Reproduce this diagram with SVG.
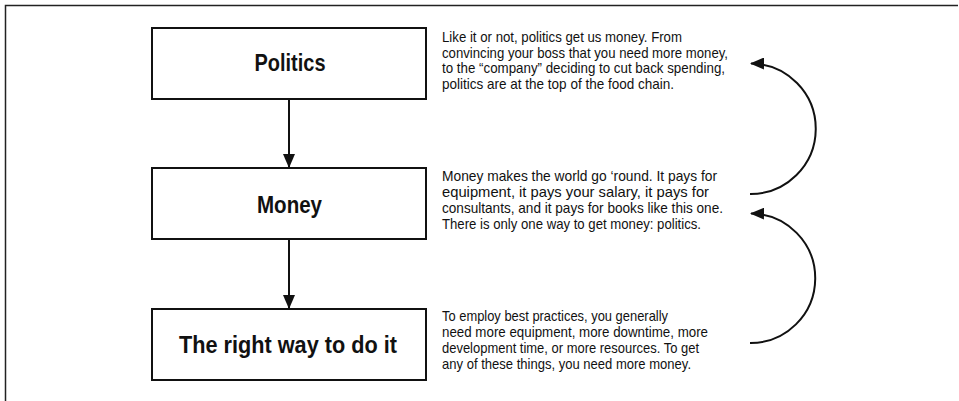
<svg xmlns="http://www.w3.org/2000/svg" width="959" height="401" viewBox="0 0 959 401">
<style>
.frame{fill:none;stroke:#222;stroke-width:1.5}
.box{fill:#fff;stroke:#111;stroke-width:2}
.lbl{font-family:"Liberation Sans",Arial,sans-serif;font-weight:bold;font-size:24px;fill:#111;text-anchor:middle}
.body{font-family:"Liberation Sans",Arial,sans-serif;font-size:15px;fill:#111}
.conn{fill:none;stroke:#111;stroke-width:2}
</style>
<defs>
<marker id="ah" viewBox="0 0 14 12" refX="13" refY="6" markerWidth="14" markerHeight="12" markerUnits="userSpaceOnUse" orient="auto">
<path d="M0,0 L14,6 L0,12 Z" fill="#111"/>
</marker>
</defs>
<rect width="959" height="401" fill="#fff"/>
<path class="frame" d="M5.5,401 V5.5 H958"/>
<g id="politics">
<rect class="box" x="152" y="28" width="274" height="71"/>
<text class="lbl" x="290" y="71" textLength="71" lengthAdjust="spacingAndGlyphs">Politics</text>
</g>
<g id="money">
<rect class="box" x="152" y="168" width="274" height="71"/>
<text class="lbl" x="289.5" y="212.5" textLength="65" lengthAdjust="spacingAndGlyphs">Money</text>
</g>
<g id="right-way">
<rect class="box" x="152" y="309" width="274" height="71"/>
<text class="lbl" x="288" y="353" textLength="218" lengthAdjust="spacingAndGlyphs">The right way to do it</text>
</g>
<g id="politics-note" class="body">
<text x="442" y="42" textLength="240" lengthAdjust="spacingAndGlyphs">Like it or not, politics get us money. From</text>
<text x="442" y="57.5" textLength="286" lengthAdjust="spacingAndGlyphs">convincing your boss that you need more money,</text>
<text x="442" y="73" textLength="283" lengthAdjust="spacingAndGlyphs">to the “company” deciding to cut back spending,</text>
<text x="442" y="88.5" textLength="232" lengthAdjust="spacingAndGlyphs">politics are at the top of the food chain.</text>
</g>
<g id="money-note" class="body">
<text x="442" y="181" textLength="275" lengthAdjust="spacingAndGlyphs">Money makes the world go ‘round. It pays for</text>
<text x="442" y="197" textLength="267" lengthAdjust="spacingAndGlyphs">equipment, it pays your salary, it pays for</text>
<text x="442" y="213" textLength="281" lengthAdjust="spacingAndGlyphs">consultants, and it pays for books like this one.</text>
<text x="442" y="229" textLength="259" lengthAdjust="spacingAndGlyphs">There is only one way to get money: politics.</text>
</g>
<g id="right-way-note" class="body">
<text x="442" y="320.5" textLength="226" lengthAdjust="spacingAndGlyphs">To employ best practices, you generally</text>
<text x="442" y="336.5" textLength="266" lengthAdjust="spacingAndGlyphs">need more equipment, more downtime, more</text>
<text x="442" y="352.5" textLength="257" lengthAdjust="spacingAndGlyphs">development time, or more resources. To get</text>
<text x="442" y="368.5" textLength="249" lengthAdjust="spacingAndGlyphs">any of these things, you need more money.</text>
</g>
<g id="connectors">
<path class="conn" d="M289,99 V167" marker-end="url(#ah)"/>
<path class="conn" d="M289,239 V308" marker-end="url(#ah)"/>
<path class="conn" d="M750,194 A64,64 0 0 0 751,63.5" marker-end="url(#ah)"/>
<path class="conn" d="M750,343 A64,64 0 0 0 751,213.5" marker-end="url(#ah)"/>
</g>
</svg>
